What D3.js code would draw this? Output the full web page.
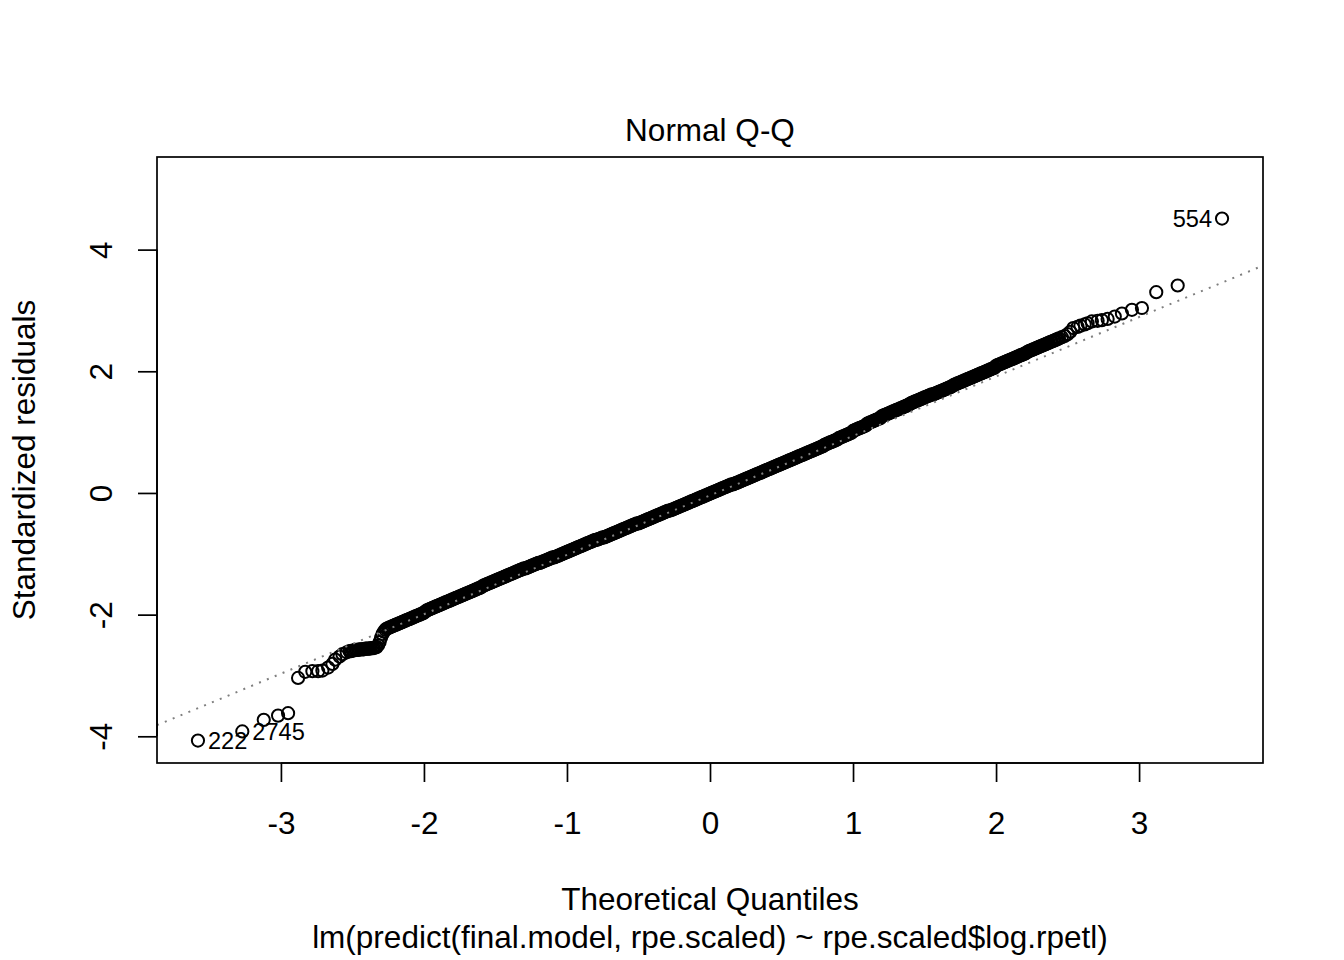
<!DOCTYPE html>
<html>
<head>
<meta charset="utf-8">
<script src="https://cdn.jsdelivr.net/npm/d3@7"></script>
<style>
body { margin: 0; background: #fff; }
text { font-family: "Liberation Sans", Arial, sans-serif; fill: #000; }
</style>
</head>
<body>
<script>
const WIDTH = 1344;
const HEIGHT = 960;

// sorted standardized residuals against their normal quantiles
const theoretical = [
    -3.58, -3.27, -3.12, -3.02, -2.95, -2.88, -2.83, -2.78, -2.74, -2.71, -2.67, -2.64, -2.62, -2.59, -2.57, -2.54,
    -2.52, -2.51, -2.50, -2.49, -2.48, -2.47, -2.46, -2.45, -2.44, -2.43,
    -2.42, -2.41, -2.40, -2.39, -2.38, -2.37, -2.36, -2.35, -2.34, -2.33,
    -2.32, -2.31, -2.30, -2.29, -2.28, -2.27, -2.26, -2.25, -2.24, -2.23,
    -2.22, -2.21, -2.20, -2.19, -2.18, -2.17, -2.16, -2.15, -2.14, -2.13,
    -2.12, -2.11, -2.10, -2.09, -2.08, -2.07, -2.06, -2.05, -2.04, -2.03,
    -2.02, -2.01, -2.00, -1.99, -1.98, -1.97, -1.96, -1.95, -1.94, -1.93,
    -1.92, -1.91, -1.90, -1.89, -1.88, -1.87, -1.86, -1.85, -1.84, -1.83,
    -1.82, -1.81, -1.80, -1.79, -1.78, -1.77, -1.76, -1.75, -1.74, -1.73,
    -1.72, -1.71, -1.70, -1.69, -1.68, -1.67, -1.66, -1.65, -1.64, -1.63,
    -1.62, -1.61, -1.60, -1.59, -1.58, -1.57, -1.56, -1.55, -1.54, -1.53,
    -1.52, -1.51, -1.50, -1.49, -1.48, -1.47, -1.46, -1.45, -1.44, -1.43,
    -1.42, -1.41, -1.40, -1.39, -1.38, -1.37, -1.36, -1.35, -1.34, -1.33,
    -1.32, -1.31, -1.30, -1.29, -1.28, -1.27, -1.26, -1.25, -1.24, -1.23,
    -1.22, -1.21, -1.20, -1.19, -1.18, -1.17, -1.16, -1.15, -1.14, -1.13,
    -1.12, -1.11, -1.10, -1.09, -1.08, -1.07, -1.06, -1.05, -1.04, -1.03,
    -1.02, -1.01, -1.00, -0.99, -0.98, -0.97, -0.96, -0.95, -0.94, -0.93,
    -0.92, -0.91, -0.90, -0.89, -0.88, -0.87, -0.86, -0.85, -0.84, -0.83,
    -0.82, -0.81, -0.80, -0.79, -0.78, -0.77, -0.76, -0.75, -0.74, -0.73,
    -0.72, -0.71, -0.70, -0.69, -0.68, -0.67, -0.66, -0.65, -0.64, -0.63,
    -0.62, -0.61, -0.60, -0.59, -0.58, -0.57, -0.56, -0.55, -0.54, -0.53,
    -0.52, -0.51, -0.50, -0.49, -0.48, -0.47, -0.46, -0.45, -0.44, -0.43,
    -0.42, -0.41, -0.40, -0.39, -0.38, -0.37, -0.36, -0.35, -0.34, -0.33,
    -0.32, -0.31, -0.30, -0.29, -0.28, -0.27, -0.26, -0.25, -0.24, -0.23,
    -0.22, -0.21, -0.20, -0.19, -0.18, -0.17, -0.16, -0.15, -0.14, -0.13,
    -0.12, -0.11, -0.10, -0.09, -0.08, -0.07, -0.06, -0.05, -0.04, -0.03,
    -0.02, -0.01, 0.00, 0.01, 0.02, 0.03, 0.04, 0.05, 0.06, 0.07,
    0.08, 0.09, 0.10, 0.11, 0.12, 0.13, 0.14, 0.15, 0.16, 0.17,
    0.18, 0.19, 0.20, 0.21, 0.22, 0.23, 0.24, 0.25, 0.26, 0.27,
    0.28, 0.29, 0.30, 0.31, 0.32, 0.33, 0.34, 0.35, 0.36, 0.37,
    0.38, 0.39, 0.40, 0.41, 0.42, 0.43, 0.44, 0.45, 0.46, 0.47,
    0.48, 0.49, 0.50, 0.51, 0.52, 0.53, 0.54, 0.55, 0.56, 0.57,
    0.58, 0.59, 0.60, 0.61, 0.62, 0.63, 0.64, 0.65, 0.66, 0.67,
    0.68, 0.69, 0.70, 0.71, 0.72, 0.73, 0.74, 0.75, 0.76, 0.77,
    0.78, 0.79, 0.80, 0.81, 0.82, 0.83, 0.84, 0.85, 0.86, 0.87,
    0.88, 0.89, 0.90, 0.91, 0.92, 0.93, 0.94, 0.95, 0.96, 0.97,
    0.98, 0.99, 1.00, 1.01, 1.02, 1.03, 1.04, 1.05, 1.06, 1.07,
    1.08, 1.09, 1.10, 1.11, 1.12, 1.13, 1.14, 1.15, 1.16, 1.17,
    1.18, 1.19, 1.20, 1.21, 1.22, 1.23, 1.24, 1.25, 1.26, 1.27,
    1.28, 1.29, 1.30, 1.31, 1.32, 1.33, 1.34, 1.35, 1.36, 1.37,
    1.38, 1.39, 1.40, 1.41, 1.42, 1.43, 1.44, 1.45, 1.46, 1.47,
    1.48, 1.49, 1.50, 1.51, 1.52, 1.53, 1.54, 1.55, 1.56, 1.57,
    1.58, 1.59, 1.60, 1.61, 1.62, 1.63, 1.64, 1.65, 1.66, 1.67,
    1.68, 1.69, 1.70, 1.71, 1.72, 1.73, 1.74, 1.75, 1.76, 1.77,
    1.78, 1.79, 1.80, 1.81, 1.82, 1.83, 1.84, 1.85, 1.86, 1.87,
    1.88, 1.89, 1.90, 1.91, 1.92, 1.93, 1.94, 1.95, 1.96, 1.97,
    1.98, 1.99, 2.00, 2.01, 2.02, 2.03, 2.04, 2.05, 2.06, 2.07,
    2.08, 2.09, 2.10, 2.11, 2.12, 2.13, 2.14, 2.15, 2.16, 2.17,
    2.18, 2.19, 2.20, 2.21, 2.22, 2.23, 2.24, 2.25, 2.26, 2.27,
    2.28, 2.29, 2.30, 2.31, 2.32, 2.33, 2.34, 2.35, 2.36, 2.37,
    2.38, 2.39, 2.40, 2.41, 2.42, 2.43, 2.44,
    2.46, 2.48, 2.50, 2.52, 2.54, 2.57, 2.59, 2.62, 2.64, 2.67, 2.71, 2.74, 2.78, 2.83, 2.88, 2.95, 3.02, 3.12, 3.27, 3.58
];
const residuals = [
    -4.07, -3.92, -3.73, -3.66, -3.62, -3.04, -2.94, -2.93, -2.93, -2.92, -2.87, -2.81, -2.74, -2.69, -2.65, -2.62,
    -2.60, -2.60, -2.59, -2.59, -2.58, -2.58, -2.58, -2.57, -2.57, -2.57,
    -2.57, -2.56, -2.56, -2.56, -2.56, -2.55, -2.55, -2.55, -2.54, -2.53,
    -2.50, -2.45, -2.38, -2.32, -2.28, -2.25, -2.23, -2.22, -2.21, -2.20,
    -2.19, -2.18, -2.17, -2.16, -2.15, -2.14, -2.13, -2.12, -2.11, -2.10,
    -2.09, -2.08, -2.07, -2.06, -2.05, -2.04, -2.03, -2.02, -2.01, -2.00,
    -1.99, -1.98, -1.97, -1.95, -1.93, -1.92, -1.91, -1.90, -1.89, -1.88,
    -1.87, -1.86, -1.85, -1.84, -1.83, -1.82, -1.81, -1.80, -1.79, -1.78,
    -1.77, -1.76, -1.75, -1.74, -1.73, -1.72, -1.71, -1.70, -1.69, -1.68,
    -1.67, -1.66, -1.65, -1.64, -1.63, -1.62, -1.61, -1.60, -1.59, -1.58,
    -1.57, -1.56, -1.55, -1.53, -1.52, -1.51, -1.50, -1.49, -1.48, -1.47,
    -1.46, -1.45, -1.44, -1.43, -1.42, -1.41, -1.40, -1.39, -1.38, -1.37,
    -1.36, -1.35, -1.34, -1.33, -1.32, -1.31, -1.30, -1.29, -1.28, -1.27,
    -1.26, -1.25, -1.24, -1.24, -1.23, -1.22, -1.21, -1.20, -1.19, -1.18,
    -1.17, -1.16, -1.15, -1.15, -1.14, -1.13, -1.12, -1.11, -1.10, -1.09,
    -1.08, -1.07, -1.06, -1.06, -1.05, -1.04, -1.03, -1.02, -1.01, -1.00,
    -0.99, -0.98, -0.97, -0.96, -0.95, -0.94, -0.93, -0.92, -0.91, -0.90,
    -0.89, -0.88, -0.87, -0.86, -0.85, -0.84, -0.83, -0.82, -0.81, -0.80,
    -0.79, -0.78, -0.77, -0.77, -0.76, -0.75, -0.74, -0.73, -0.73, -0.72,
    -0.71, -0.70, -0.69, -0.68, -0.67, -0.66, -0.65, -0.64, -0.63, -0.62,
    -0.61, -0.60, -0.59, -0.58, -0.57, -0.56, -0.55, -0.54, -0.53, -0.52,
    -0.51, -0.50, -0.50, -0.49, -0.48, -0.47, -0.46, -0.45, -0.44, -0.43,
    -0.42, -0.41, -0.40, -0.39, -0.38, -0.37, -0.36, -0.35, -0.34, -0.33,
    -0.32, -0.31, -0.30, -0.29, -0.29, -0.28, -0.27, -0.26, -0.25, -0.24,
    -0.23, -0.22, -0.21, -0.20, -0.19, -0.18, -0.17, -0.16, -0.15, -0.14,
    -0.13, -0.12, -0.11, -0.10, -0.09, -0.08, -0.07, -0.06, -0.05, -0.04,
    -0.03, -0.02, -0.01, 0.00, 0.01, 0.02, 0.03, 0.04, 0.05, 0.06,
    0.07, 0.08, 0.09, 0.10, 0.11, 0.12, 0.13, 0.14, 0.14, 0.15,
    0.16, 0.17, 0.18, 0.19, 0.20, 0.21, 0.22, 0.23, 0.24, 0.25,
    0.26, 0.27, 0.28, 0.29, 0.30, 0.31, 0.32, 0.33, 0.34, 0.35,
    0.36, 0.37, 0.38, 0.39, 0.40, 0.41, 0.42, 0.43, 0.44, 0.45,
    0.46, 0.47, 0.48, 0.49, 0.50, 0.51, 0.52, 0.53, 0.54, 0.55,
    0.56, 0.57, 0.58, 0.59, 0.60, 0.61, 0.62, 0.63, 0.64, 0.65,
    0.66, 0.67, 0.68, 0.69, 0.70, 0.71, 0.72, 0.73, 0.74, 0.75,
    0.76, 0.77, 0.79, 0.80, 0.81, 0.82, 0.83, 0.84, 0.85, 0.86,
    0.87, 0.88, 0.90, 0.91, 0.92, 0.93, 0.94, 0.95, 0.96, 0.97,
    0.98, 0.99, 1.02, 1.03, 1.04, 1.05, 1.06, 1.07, 1.08, 1.09,
    1.10, 1.11, 1.14, 1.15, 1.16, 1.17, 1.18, 1.19, 1.20, 1.21,
    1.22, 1.23, 1.26, 1.27, 1.28, 1.29, 1.30, 1.31, 1.32, 1.33,
    1.34, 1.35, 1.36, 1.37, 1.38, 1.39, 1.40, 1.41, 1.42, 1.43,
    1.44, 1.45, 1.47, 1.48, 1.49, 1.50, 1.51, 1.52, 1.53, 1.54,
    1.55, 1.56, 1.57, 1.58, 1.59, 1.60, 1.61, 1.62, 1.62, 1.63,
    1.64, 1.65, 1.66, 1.67, 1.68, 1.69, 1.70, 1.71, 1.72, 1.73,
    1.74, 1.75, 1.77, 1.78, 1.79, 1.80, 1.81, 1.82, 1.83, 1.84,
    1.85, 1.86, 1.87, 1.88, 1.89, 1.90, 1.91, 1.92, 1.93, 1.94,
    1.95, 1.96, 1.97, 1.98, 1.99, 2.00, 2.01, 2.02, 2.03, 2.04,
    2.05, 2.06, 2.09, 2.10, 2.11, 2.12, 2.13, 2.14, 2.15, 2.16,
    2.17, 2.18, 2.19, 2.20, 2.21, 2.22, 2.23, 2.24, 2.25, 2.26,
    2.27, 2.28, 2.29, 2.30, 2.32, 2.33, 2.34, 2.35, 2.36, 2.37,
    2.38, 2.39, 2.40, 2.41, 2.42, 2.43, 2.44, 2.45, 2.46, 2.47,
    2.48, 2.49, 2.50, 2.51, 2.52, 2.53, 2.54,
    2.56, 2.58, 2.61, 2.65, 2.71, 2.73, 2.75, 2.77, 2.79, 2.82, 2.83, 2.84, 2.86, 2.90, 2.95, 3.01, 3.04, 3.30, 3.41, 4.51
];

// the three flagged observations
const idLabels = ["222", "2745", "554"];
const idTheoretical = [-3.58, -3.27, 3.58];
const idResiduals = [-4.07, -3.92, 4.51];

// qqline through the quartiles
const lineIntercept = -0.04;
const lineSlope = 0.977;

const xTicks = [-3, -2, -1, 0, 1, 2, 3];
const yTicks = [-4, -2, 0, 2, 4];

const plotTitle = "Normal Q-Q";
const xTitle = "Theoretical Quantiles";
const yTitle = "Standardized residuals";
const subTitle = "lm(predict(final.model, rpe.scaled) ~ rpe.scaled$log.rpetl)";

function setup(){
    let svg = d3.select("body")
        .append("svg")
        .attr("width",WIDTH)
        .attr("height",HEIGHT);
    main(svg);
}

function main(svg){
    const left = 157, right = 1263, top = 157, bottom = 763;
    const fontSize = 31.5;

    // R style limits: 4% padding, extra 7.5% on top for the labels
    let xr = d3.extent(theoretical);
    let xPad = (xr[1]-xr[0])*0.04;
    let yr = d3.extent(residuals);
    yr[1] = yr[1] + (yr[1]-yr[0])*0.075;
    let yPad = (yr[1]-yr[0])*0.04;

    let x = d3.scaleLinear().domain([xr[0]-xPad, xr[1]+xPad]).range([left,right]);
    let y = d3.scaleLinear().domain([yr[0]-yPad, yr[1]+yPad]).range([bottom,top]);

    svg.append("defs").append("clipPath")
        .attr("id","plotclip")
        .append("rect")
        .attr("x",left).attr("y",top)
        .attr("width",right-left).attr("height",bottom-top);

    let pts = theoretical.map((t,i) => ({t:t, r:residuals[i]}));
    svg.append("g")
        .selectAll("circle")
        .data(pts)
        .enter()
        .append("circle")
        .attr("cx",d => x(d.t))
        .attr("cy",d => y(d.r))
        .attr("r",6.1)
        .style("fill","none")
        .style("stroke","#000")
        .style("stroke-width",2);

    let xd = x.domain();
    svg.append("line")
        .attr("clip-path","url(#plotclip)")
        .attr("x1",x(xd[0])).attr("y1",y(lineIntercept+lineSlope*xd[0]))
        .attr("x2",x(xd[1])).attr("y2",y(lineIntercept+lineSlope*xd[1]))
        .style("stroke","#7f7f7f")
        .style("stroke-width",2)
        .style("stroke-dasharray","2,6.5");

    // labels of the extreme points
    svg.append("g")
        .selectAll("text")
        .data(idLabels)
        .enter()
        .append("text")
        .attr("x",(d,i) => idTheoretical[i] < 0 ? x(idTheoretical[i])+10 : x(idTheoretical[i])-10)
        .attr("y",(d,i) => y(idResiduals[i]))
        .attr("dy","0.36em")
        .attr("text-anchor",(d,i) => idTheoretical[i] < 0 ? "start" : "end")
        .style("font-size","23.6px")
        .text(d => d);

    let xAxis = svg.append("g")
        .attr("transform",`translate(0,${bottom})`)
        .call(d3.axisBottom(x).tickValues(xTicks).tickSize(19).tickSizeOuter(0).tickFormat(d => String(d)));
    xAxis.select(".domain").attr("d",`M${x(xTicks[0])},0H${x(xTicks[xTicks.length-1])}`);
    xAxis.selectAll("text")
        .attr("y",71)
        .attr("dy",null)
        .style("font-size",fontSize+"px")
        .style("font-family",'"Liberation Sans", Arial, sans-serif');

    let yAxis = svg.append("g")
        .attr("transform",`translate(${left},0)`)
        .call(d3.axisLeft(y).tickValues(yTicks).tickSize(19).tickSizeOuter(0).tickFormat(d => String(d)));
    yAxis.select(".domain").attr("d",`M0,${y(yTicks[0])}V${y(yTicks[yTicks.length-1])}`);
    yAxis.selectAll("text")
        .attr("x",0)
        .attr("y",-45)
        .attr("dy",null)
        .attr("transform","rotate(-90)")
        .attr("text-anchor","middle")
        .style("font-size",fontSize+"px")
        .style("font-family",'"Liberation Sans", Arial, sans-serif');

    svg.selectAll(".tick line").style("stroke","#000").style("stroke-width",1.7);
    svg.selectAll(".domain").style("stroke","#000").style("stroke-width",1.7);

    svg.append("rect")
        .attr("x",left).attr("y",top)
        .attr("width",right-left).attr("height",bottom-top)
        .style("fill","none")
        .style("stroke","#000")
        .style("stroke-width",1.7);

    svg.append("text")
        .attr("x",(left+right)/2).attr("y",141)
        .attr("text-anchor","middle")
        .style("font-size",fontSize+"px")
        .text(plotTitle);

    svg.append("text")
        .attr("x",(left+right)/2).attr("y",910)
        .attr("text-anchor","middle")
        .style("font-size",fontSize+"px")
        .text(xTitle);

    svg.append("text")
        .attr("x",(left+right)/2).attr("y",948)
        .attr("text-anchor","middle")
        .style("font-size",fontSize+"px")
        .text(subTitle);

    svg.append("text")
        .attr("transform",`translate(35,${(top+bottom)/2}) rotate(-90)`)
        .attr("text-anchor","middle")
        .style("font-size",fontSize+"px")
        .text(yTitle);
}

window.addEventListener("load",setup);
</script>
</body>
</html>
